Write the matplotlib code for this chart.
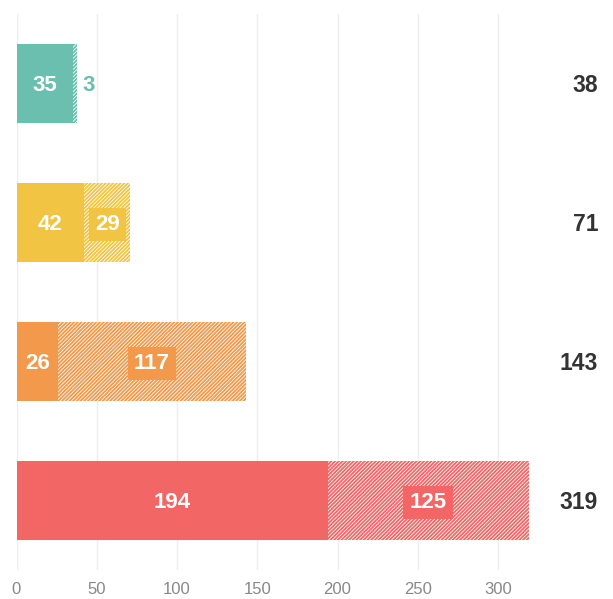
import matplotlib
matplotlib.use("Agg")
import matplotlib.pyplot as plt

solid = [35, 42, 26, 194]
hatched = [3, 29, 117, 125]
colors = ["#6bbfaf", "#f2c443", "#f2994b", "#f26666"]
xticks = [0, 50, 100, 150, 200, 250, 300]

plt.rcParams["font.family"] = ["Liberation Sans", "DejaVu Sans"]
plt.rcParams["hatch.linewidth"] = 1.3

fig = plt.figure(figsize=(6.13, 5.99), dpi=100)
W, H = 613, 599
ax = fig.add_axes([16.5 / W, 1 - 570 / H, (528.5 - 16.5) / W, (570 - 14) / H])

ys = list(range(len(solid)))
dy = 0.015  # nudge text down so digits sit visually centred
for y, s, h, c in zip(ys, solid, hatched, colors):
    ax.barh(y, s, height=0.57, color=c, linewidth=0, zorder=2)
    ax.barh(y, h, left=s, height=0.57, facecolor="white", edgecolor=c,
            hatch="/" * 9, linewidth=0, zorder=2)
    ax.text(s / 2, y + dy, str(s), ha="center", va="center", color="white",
            fontsize=16, fontweight="bold", zorder=3)
    if h < 10:
        ax.text(s + h + 3, y + dy, str(h), ha="left", va="center", color=c,
                fontsize=16, fontweight="bold", zorder=3)
    else:
        ax.text(s + h / 2, y + dy, str(h), ha="center", va="center", color="white",
                fontsize=16, fontweight="bold", zorder=3,
                bbox=dict(boxstyle="square,pad=0.28", facecolor=c, edgecolor="none"))
    fig.text(598 / W, 1 - (86 + y * 138.7) / H, str(s + h), ha="right", va="center",
             color="#333333", fontsize=16.5, fontweight="bold")

ax.set_xlim(0, 319)
ax.set_ylim(3.5, -0.5)
ax.set_xticks(xticks)
ax.set_yticks([])
ax.tick_params(axis="x", length=0, pad=9, labelsize=12, labelcolor="#888888")
ax.grid(axis="x", color="#eeeeee", linewidth=1, zorder=0)
ax.set_axisbelow(True)
for sp in ax.spines.values():
    sp.set_visible(False)

fig.savefig("out.png", dpi=100)
